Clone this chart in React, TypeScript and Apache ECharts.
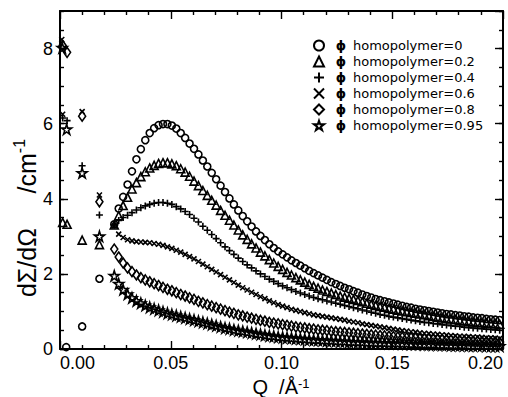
import React, { useEffect, useRef } from 'react';
import * as echarts from 'echarts';

// Q values (1/Å) of the main (high-Q) detector data
const Q_MAIN = [
  0.0245, 0.0265, 0.0285, 0.0305, 0.0325, 0.0345, 0.0365, 0.0385, 0.0405, 0.0425,
  0.0445, 0.0465, 0.0485, 0.0505, 0.0525, 0.0545, 0.0565, 0.0585, 0.0605, 0.0625,
  0.0645, 0.0665, 0.0685, 0.0705, 0.0725, 0.0745, 0.0765, 0.0785, 0.0805, 0.0825,
  0.0845, 0.0865, 0.0885, 0.0905, 0.0925, 0.0945, 0.0965, 0.0985, 0.1005, 0.1025,
  0.1045, 0.1065, 0.1085, 0.1105, 0.1125, 0.1145, 0.1165, 0.1185, 0.1205, 0.1225,
  0.1245, 0.1265, 0.1285, 0.1305, 0.1325, 0.1345, 0.1365, 0.1385, 0.1405, 0.1425,
  0.1445, 0.1465, 0.1485, 0.1505, 0.1525, 0.1545, 0.1565, 0.1585, 0.1605, 0.1625,
  0.1645, 0.1665, 0.1685, 0.1705, 0.1725, 0.1745, 0.1765, 0.1785, 0.1805, 0.1825,
  0.1845, 0.1865, 0.1885, 0.1905, 0.1925, 0.1945, 0.1965, 0.1985,
];

const PHI_0 = [
  3.32, 3.74, 4.05, 4.38, 4.73, 5.05, 5.32, 5.56, 5.75, 5.88,
  5.96, 5.99, 5.99, 5.95, 5.87, 5.75, 5.62, 5.47, 5.33, 5.18,
  5.02, 4.86, 4.69, 4.52, 4.35, 4.18, 4.01, 3.85, 3.69, 3.54,
  3.40, 3.26, 3.13, 3.01, 2.90, 2.79, 2.69, 2.60, 2.52, 2.44,
  2.36, 2.29, 2.22, 2.15, 2.08, 2.02, 1.96, 1.90, 1.84, 1.78,
  1.73, 1.68, 1.63, 1.59, 1.54, 1.50, 1.45, 1.41, 1.37, 1.33,
  1.30, 1.27, 1.24, 1.21, 1.18, 1.15, 1.12, 1.10, 1.07, 1.05,
  1.03, 1.01, 0.99, 0.97, 0.95, 0.93, 0.92, 0.90, 0.89, 0.87,
  0.86, 0.84, 0.83, 0.82, 0.80, 0.79, 0.78, 0.77,
];

const PHI_02 = [
  3.30, 3.55, 3.82, 4.04, 4.26, 4.43, 4.59, 4.72, 4.82, 4.89,
  4.94, 4.96, 4.96, 4.93, 4.88, 4.80, 4.71, 4.60, 4.47, 4.35,
  4.22, 4.09, 3.96, 3.83, 3.69, 3.56, 3.43, 3.30, 3.17, 3.04,
  2.92, 2.80, 2.69, 2.58, 2.48, 2.38, 2.29, 2.20, 2.12, 2.04,
  1.97, 1.90, 1.84, 1.78, 1.72, 1.67, 1.62, 1.57, 1.53, 1.49,
  1.45, 1.41, 1.38, 1.35, 1.32, 1.29, 1.26, 1.22, 1.19, 1.16,
  1.13, 1.11, 1.08, 1.06, 1.03, 1.01, 0.99, 0.97, 0.95, 0.93,
  0.91, 0.89, 0.87, 0.85, 0.83, 0.81, 0.80, 0.78, 0.76, 0.75,
  0.73, 0.72, 0.71, 0.70, 0.69, 0.68, 0.67, 0.66,
];

const PHI_04 = [
  3.30, 3.42, 3.50, 3.56, 3.63, 3.70, 3.76, 3.81, 3.85, 3.88,
  3.90, 3.90, 3.88, 3.85, 3.79, 3.73, 3.66, 3.58, 3.48, 3.38,
  3.27, 3.16, 3.05, 2.94, 2.83, 2.72, 2.62, 2.52, 2.42, 2.33,
  2.24, 2.16, 2.08, 2.00, 1.93, 1.86, 1.80, 1.74, 1.68, 1.63,
  1.58, 1.53, 1.49, 1.45, 1.41, 1.37, 1.34, 1.31, 1.28, 1.25,
  1.22, 1.19, 1.16, 1.13, 1.10, 1.07, 1.04, 1.01, 0.98, 0.95,
  0.92, 0.90, 0.87, 0.85, 0.83, 0.81, 0.79, 0.77, 0.75, 0.73,
  0.71, 0.70, 0.68, 0.67, 0.65, 0.64, 0.62, 0.61, 0.60, 0.58,
  0.57, 0.56, 0.55, 0.54, 0.53, 0.52, 0.51, 0.50,
];

const PHI_06 = [
  3.28, 3.06, 2.97, 2.91, 2.88, 2.86, 2.85, 2.84, 2.83, 2.81,
  2.79, 2.76, 2.72, 2.68, 2.63, 2.58, 2.52, 2.46, 2.40, 2.33,
  2.26, 2.19, 2.12, 2.05, 1.98, 1.91, 1.84, 1.77, 1.70, 1.63,
  1.57, 1.51, 1.45, 1.39, 1.34, 1.28, 1.23, 1.18, 1.14, 1.10,
  1.06, 1.03, 1.00, 0.97, 0.94, 0.91, 0.89, 0.87, 0.85, 0.83,
  0.81, 0.79, 0.77, 0.74, 0.72, 0.70, 0.67, 0.65, 0.63, 0.61,
  0.59, 0.57, 0.55, 0.53, 0.51, 0.49, 0.48, 0.46, 0.45, 0.43,
  0.42, 0.41, 0.40, 0.39, 0.38, 0.37, 0.36, 0.35, 0.34, 0.34,
  0.33, 0.32, 0.32, 0.31, 0.30, 0.30, 0.29, 0.28,
];

const PHI_08 = [
  2.66, 2.45, 2.29, 2.16, 2.06, 1.97, 1.90, 1.84, 1.79, 1.74,
  1.69, 1.64, 1.59, 1.55, 1.50, 1.45, 1.41, 1.36, 1.32, 1.27,
  1.23, 1.18, 1.14, 1.10, 1.06, 1.02, 0.98, 0.95, 0.91, 0.88,
  0.85, 0.82, 0.79, 0.76, 0.74, 0.71, 0.69, 0.67, 0.65, 0.63,
  0.61, 0.59, 0.57, 0.56, 0.54, 0.53, 0.51, 0.50, 0.49, 0.47,
  0.46, 0.45, 0.44, 0.43, 0.42, 0.41, 0.40, 0.39, 0.38, 0.37,
  0.36, 0.35, 0.34, 0.33, 0.32, 0.31, 0.30, 0.30, 0.29, 0.28,
  0.27, 0.27, 0.26, 0.25, 0.25, 0.24, 0.24, 0.23, 0.23, 0.22,
  0.22, 0.21, 0.21, 0.20, 0.20, 0.19, 0.19, 0.18,
];

const PHI_095 = [
  1.95, 1.74, 1.58, 1.46, 1.36, 1.28, 1.22, 1.16, 1.11, 1.07,
  1.03, 0.99, 0.95, 0.92, 0.89, 0.86, 0.83, 0.80, 0.77, 0.74,
  0.71, 0.68, 0.65, 0.62, 0.59, 0.56, 0.54, 0.51, 0.49, 0.47,
  0.45, 0.43, 0.41, 0.39, 0.37, 0.35, 0.34, 0.32, 0.31, 0.30,
  0.29, 0.28, 0.27, 0.26, 0.25, 0.24, 0.24, 0.23, 0.22, 0.22,
  0.21, 0.20, 0.20, 0.19, 0.19, 0.18, 0.18, 0.17, 0.17, 0.16,
  0.16, 0.16, 0.15, 0.15, 0.15, 0.14, 0.14, 0.13, 0.13, 0.13,
  0.12, 0.12, 0.12, 0.11, 0.11, 0.11, 0.10, 0.10, 0.10, 0.10,
  0.09, 0.09, 0.09, 0.09, 0.08, 0.08, 0.08, 0.08,
];

// low-Q points (separate detector setting)
const LOWQ_0 = [0.0028, 0.0100, 0.0178];
const LOW_0 = [0.05, 0.60, 1.87];
const LOWQ_02 = [0.0012, 0.0032, 0.0100, 0.0178];
const LOW_02 = [3.37, 3.32, 2.90, 2.78];
const LOWQ_04 = [0.0012, 0.0032, 0.0100, 0.0178];
const LOW_04 = [6.15, 6.08, 4.88, 3.57];
const LOWQ_06 = [0.0008, 0.0012, 0.0100, 0.0178];
const LOW_06 = [8.24, 6.25, 6.32, 4.10];
const LOWQ_08 = [0.0012, 0.0032, 0.0100, 0.0178];
const LOW_08 = [8.08, 7.90, 6.20, 3.92];
const LOWQ_095 = [0.0010, 0.0030, 0.0100, 0.0178];
const LOW_095 = [8.02, 5.85, 4.69, 3.00];

const SERIES_NAMES = [
  'homopolymer=0',
  'homopolymer=0.2',
  'homopolymer=0.4',
  'homopolymer=0.6',
  'homopolymer=0.8',
  'homopolymer=0.95',
];

const TICK_FONT = '"Liberation Sans", Arial, Helvetica, sans-serif';
const LEGEND_FONT = '"DejaVu Sans", "Liberation Sans", sans-serif';

const STAR =
  'path://M50,0L61.2,34.5L97.6,34.5L68.2,55.9L79.4,90.5L50,69.1L20.6,90.5L31.8,55.9L2.4,34.5L38.8,34.5Z';
const PLUS = 'path://M5,0L5,10M0,5L10,5';
const CROSS = 'path://M0,0L10,10M10,0L0,10';

function pairs(qs: number[], vs: number[]) {
  return qs.map((q, i) => [q, vs[i]]);
}

export default function App() {
  const ref = useRef<HTMLDivElement>(null);

  useEffect(() => {
    if (!ref.current) return;
    const chart = echarts.init(ref.current, null, { renderer: 'svg' });

    const sets = [
      { lq: LOWQ_0, lv: LOW_0, v: PHI_0, symbol: 'circle', size: 7 as any },
      { lq: LOWQ_02, lv: LOW_02, v: PHI_02, symbol: 'triangle', size: 8 as any },
      { lq: LOWQ_04, lv: LOW_04, v: PHI_04, symbol: PLUS, size: 7 as any },
      { lq: LOWQ_06, lv: LOW_06, v: PHI_06, symbol: CROSS, size: 5 as any },
      { lq: LOWQ_08, lv: LOW_08, v: PHI_08, symbol: 'diamond', size: [7, 10] as any },
      { lq: LOWQ_095, lv: LOW_095, v: PHI_095, symbol: STAR, size: 10 as any },
    ];

    const series = sets.map((s, i) => ({
      type: 'scatter',
      name: SERIES_NAMES[i],
      xAxisIndex: 0,
      yAxisIndex: 0,
      symbol: s.symbol,
      symbolSize: s.size,
      silent: true,
      data: pairs(s.lq, s.lv).concat(pairs(Q_MAIN, s.v)),
      itemStyle: { color: 'rgba(0,0,0,0)', borderColor: '#000', borderWidth: 1.6, opacity: 1 },
    }));

    const lineStyle = { color: '#000', width: 2 };
    const tickStyle = { color: '#000', width: 1.4 };

    const xBase = {
      type: 'value',
      min: 0,
      max: 0.2,
      interval: 0.05,
      splitLine: { show: false },
      minorSplitLine: { show: false },
      axisLine: { show: true, onZero: false, lineStyle },
      axisTick: { show: true, inside: true, length: 8, lineStyle: tickStyle },
      minorTick: { show: true, splitNumber: 5, length: 4, lineStyle: tickStyle },
    };

    const yMajor = {
      type: 'value',
      min: 0,
      max: 9,
      interval: 2,
      splitLine: { show: false },
      axisLine: { show: true, onZero: false, lineStyle },
      axisTick: { show: true, inside: true, length: 8, lineStyle: tickStyle },
    };
    const yMinor = {
      type: 'value',
      min: 0,
      max: 9,
      interval: 0.5,
      splitLine: { show: false },
      axisLine: { show: false, onZero: false },
      axisTick: { show: true, inside: true, length: 4, lineStyle: tickStyle },
      axisLabel: { show: false },
    };

    const option: any = {
      animation: false,
      backgroundColor: '#fff',
      grid: { left: 60, right: 5, top: 11, bottom: 48, containLabel: false, outerBoundsMode: 'none' },
      xAxis: [
        {
          ...xBase,
          position: 'bottom',
          axisLabel: {
            show: true,
            color: '#000',
            fontFamily: TICK_FONT,
            fontSize: 18,
            margin: 5,
            alignMinLabel: 'left',
            alignMaxLabel: 'right',
            formatter: (v: number) => v.toFixed(2),
          },
        },
        { ...xBase, position: 'top', axisLabel: { show: false } },
      ],
      yAxis: [
        {
          ...yMajor,
          position: 'left',
          axisLabel: {
            show: true,
            color: '#000',
            fontFamily: TICK_FONT,
            fontSize: 18,
            margin: 7,
            showMaxLabel: false,
          },
        },
        { ...yMinor, position: 'left' },
        { ...yMajor, position: 'right', axisLabel: { show: false } },
        { ...yMinor, position: 'right' },
      ],
      legend: {
        orient: 'vertical',
        left: 313,
        top: 39,
        padding: 0,
        itemWidth: 10,
        itemHeight: 10,
        itemGap: 3,
        selectedMode: false,
        data: SERIES_NAMES,
        formatter: (n: string) => `{p|\u03D5}{t|${n}}`,
        textStyle: {
          color: '#000',
          fontFamily: LEGEND_FONT,
          fontSize: 13,
          lineHeight: 10,
          rich: {
            p: { fontFamily: LEGEND_FONT, fontSize: 13, fontWeight: 'bold', width: 24, align: 'center', color: '#000' },
            t: { fontFamily: LEGEND_FONT, fontSize: 13, color: '#000' },
          },
        },
      },
      graphic: [
        {
          type: 'text',
          x: 25,
          y: 218,
          rotation: Math.PI / 2,
          style: {
            text: '{a|d\u03A3/d\u03A9     /cm}{s|-1}',
            align: 'center',
            verticalAlign: 'middle',
            fill: '#000',
            rich: {
              a: { fontFamily: TICK_FONT, fontSize: 25, lineHeight: 28, verticalAlign: 'bottom', fill: '#000' },
              s: { fontFamily: TICK_FONT, fontSize: 16, lineHeight: 28, verticalAlign: 'top', fill: '#000' },
            },
          },
        },
        {
          type: 'text',
          x: 281,
          y: 387,
          style: {
            text: '{a|Q  /\u00C5}{s|-1}',
            align: 'center',
            verticalAlign: 'middle',
            fill: '#000',
            rich: {
              a: { fontFamily: TICK_FONT, fontSize: 20, lineHeight: 20, verticalAlign: 'bottom', fill: '#000' },
              s: { fontFamily: TICK_FONT, fontSize: 13, lineHeight: 20, verticalAlign: 'top', fill: '#000' },
            },
          },
        },
      ],
      series,
    };

    chart.setOption(option);
    return () => chart.dispose();
  }, []);

  return (
    <div
      ref={ref}
      style={{ position: 'absolute', left: 0, top: 0, width: 508, height: 397, background: '#fff' }}
    />
  );
}
